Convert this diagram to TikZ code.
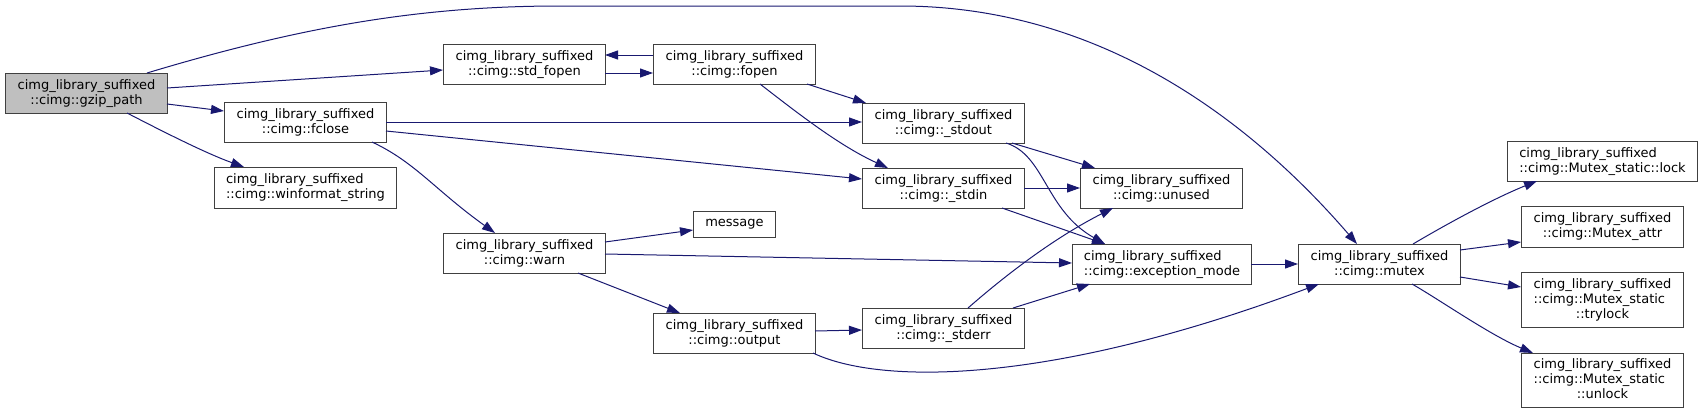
\documentclass[tikz,border=0pt]{standalone}
\usepackage{fontspec}
\newfontfamily\dvs{DejaVu Sans}
\usetikzlibrary{arrows.meta,calc}
\definecolor{edgec}{HTML}{191970}
\definecolor{boxc}{HTML}{404040}
\definecolor{rootc}{HTML}{BFBFBF}
\newcommand\twol[2]{\begin{tabular}{@{}l@{}}#1\\\multicolumn{1}{@{}c@{}}{#2}\end{tabular}}
\newcommand\threel[3]{\begin{tabular}{@{}l@{}}#1\\#2\\\multicolumn{1}{@{}c@{}}{#3}\end{tabular}}
\tikzset{
  box/.style={draw=boxc, line width=1pt, fill=white, inner sep=0pt, anchor=north west,
    minimum width=162pt, minimum height=40pt, font=\dvs\fontsize{13}{15}\selectfont},
  edge/.style={draw=edgec, line width=1pt, -{Triangle[length=13pt,width=9pt]}}
}
\begin{document}
\begin{tikzpicture}[x=1pt,y=-1pt]
\useasboundingbox (0,0) rectangle (1703,413);
\node[box, fill=rootc] (gzip) at (5,73) {\twol{cimg\_library\_suffixed}{::cimg::gzip\_path}};
\node[box] (stdf) at (443,44) {\twol{cimg\_library\_suffixed}{::cimg::std\_fopen}};
\node[box] (fopen) at (653,44) {\twol{cimg\_library\_suffixed}{::cimg::fopen}};
\node[box] (fclose) at (224,102) {\twol{cimg\_library\_suffixed}{::cimg::fclose}};
\node[box, minimum width=182pt, minimum height=41pt] (winf) at (214,167) {\twol{cimg\_library\_suffixed}{::cimg::winformat\_string}};
\node[box] (warn) at (443,233) {\twol{cimg\_library\_suffixed}{::cimg::warn}};
\node[box, minimum width=82pt, minimum height=26pt] (msg) at (693,211) {message};
\node[box] (outp) at (653,313) {\twol{cimg\_library\_suffixed}{::cimg::output}};
\node[box] (sout) at (862,103) {\twol{cimg\_library\_suffixed}{::cimg::\_stdout}};
\node[box] (sin) at (862,168) {\twol{cimg\_library\_suffixed}{::cimg::\_stdin}};
\node[box] (serr) at (862,308) {\twol{cimg\_library\_suffixed}{::cimg::\_stderr}};
\node[box] (unused) at (1080,168) {\twol{cimg\_library\_suffixed}{::cimg::unused}};
\node[box, minimum width=179pt] (exc) at (1072,244) {\twol{cimg\_library\_suffixed}{::cimg::exception\_mode}};
\node[box] (mutex) at (1298,244) {\twol{cimg\_library\_suffixed}{::cimg::mutex}};
\node[box, minimum width=190pt] (lock) at (1507,141) {\twol{cimg\_library\_suffixed}{::cimg::Mutex\_static::lock}};
\node[box, minimum height=41pt] (attr) at (1521,206) {\twol{cimg\_library\_suffixed}{::cimg::Mutex\_attr}};
\node[box, minimum height=55pt] (tryl) at (1521,272) {\threel{cimg\_library\_suffixed}{::cimg::Mutex\_static}{::trylock}};
\node[box, minimum height=54pt] (unl) at (1521,353) {\threel{cimg\_library\_suffixed}{::cimg::Mutex\_static}{::unlock}};

\draw[edge] ($(gzip.north west)+(162,15)$) -- ($(stdf.north west)+(0,26)$);
\draw[edge] ($(gzip.north west)+(162,31)$) -- ($(fclose.north west)+(0,9)$);
\draw[edge] ($(gzip.north west)+(122,40)$) .. controls (160,130) and (205,153) .. ($(winf.north west)+(30,0)$);
\draw[edge] ($(gzip.north west)+(142,0)$) .. controls (300,27) and (420,6) .. (560,6) -- (900,6) .. controls (1100,6) and (1250,120) .. ($(mutex.north west)+(59,0)$);
\draw[edge] ($(stdf.north west)+(162,29)$) -- ($(fopen.north west)+(0,29)$);
\draw[edge] ($(fopen.north west)+(0,11)$) -- ($(stdf.north west)+(162,11)$);
\draw[edge] ($(fopen.north west)+(154,40)$) -- ($(sout.north west)+(4,0)$);
\draw[edge] ($(fopen.north west)+(107,40)$) .. controls (800,115) and (840,146) .. ($(sin.north west)+(26,0)$);
\draw[edge] ($(fclose.north west)+(162,20)$) -- ($(sout.north west)+(0,19)$);
\draw[edge] ($(fclose.north west)+(162,29)$) -- ($(sin.north west)+(0,11)$);
\draw[edge] ($(fclose.north west)+(148,40)$) .. controls (415,162) and (435,190) .. ($(warn.north west)+(52,0)$);
\draw[edge] ($(sout.north west)+(150,40)$) -- ($(unused.north west)+(15,0)$);
\draw[edge] ($(sout.north west)+(144,40)$) .. controls (1045,155) and (1045,210) .. ($(exc.north west)+(33,0)$);
\draw[edge] ($(sin.north west)+(162,20)$) -- ($(unused.north west)+(0,20)$);
\draw[edge] ($(sin.north west)+(140,40)$) -- ($(exc.north west)+(33,0)$);
\draw[edge] ($(warn.north west)+(162,9)$) -- ($(msg.north west)+(0,19)$);
\draw[edge] ($(warn.north west)+(162,21)$) -- ($(exc.north west)+(0,19)$);
\draw[edge] ($(warn.north west)+(135,40)$) -- ($(outp.north west)+(27,0)$);
\draw[edge] ($(outp.north west)+(162,18)$) -- ($(serr.north west)+(0,22)$);
\draw[edge] ($(outp.north west)+(160,40)$) .. controls (880,385) and (1050,385) .. ($(mutex.north west)+(21,40)$);
\draw[edge] ($(serr.north west)+(106,0)$) .. controls (1000,280) and (1050,240) .. ($(unused.north west)+(33,40)$);
\draw[edge] ($(serr.north west)+(151,0)$) -- ($(exc.north west)+(18,40)$);
\draw[edge] ($(exc.north west)+(179,20)$) -- ($(mutex.north west)+(0,20)$);
\draw[edge] ($(mutex.north west)+(115,0)$) .. controls (1440,228) and (1490,200) .. ($(lock.north west)+(30,40)$);
\draw[edge] ($(mutex.north west)+(162,6)$) -- ($(attr.north west)+(0,36)$);
\draw[edge] ($(mutex.north west)+(162,33)$) -- ($(tryl.north west)+(0,15)$);
\draw[edge] ($(mutex.north west)+(114,40)$) .. controls (1440,300) and (1490,335) .. ($(unl.north west)+(12,0)$);
\end{tikzpicture}
\end{document}
